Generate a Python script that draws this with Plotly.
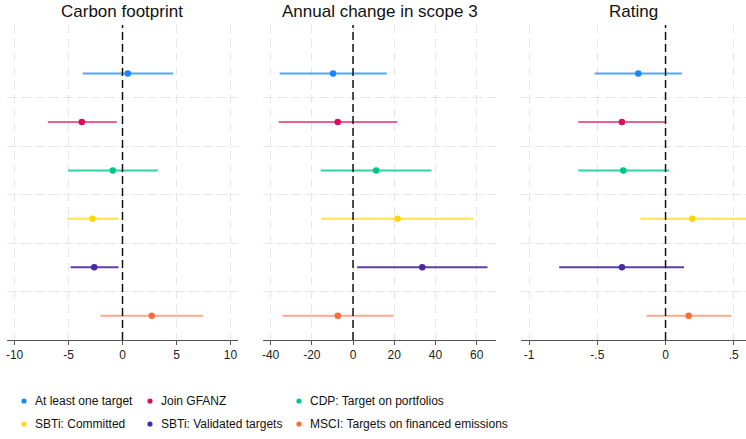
import plotly.graph_objects as go

series = ["At least one target", "Join GFANZ", "CDP: Target on portfolios",
          "SBTi: Committed", "SBTi: Validated targets", "MSCI: Targets on financed emissions"]
colors = ["#1A85FF", "#D41159", "#00C58A", "#FFD60A", "#4B2A9E", "#FF6A3D"]
ci_colors = ["rgba(26,133,255,0.75)", "rgba(212,17,89,0.65)", "rgba(0,197,138,0.8)",
             "rgba(255,214,10,0.7)", "rgba(75,42,158,0.9)", "rgba(255,106,61,0.6)"]
rows = [1, 2, 3, 4, 5, 6]

panel_titles = ["Carbon footprint", "Annual change in scope 3", "Rating"]

carbon_est = [0.49, -3.77, -0.90, -2.78, -2.62, 2.71]
carbon_lo = [-3.67, -6.92, -5.03, -5.16, -4.81, -2.04]
carbon_hi = [4.69, -0.53, 3.27, -0.34, -0.37, 7.47]

scope3_est = [-9.7, -7.4, 11.2, 21.6, 33.6, -7.4]
scope3_lo = [-35.6, -36.1, -15.7, -15.4, 2.0, -34.3]
scope3_hi = [16.4, 21.4, 38.1, 58.4, 65.3, 19.8]

rating_est = [-0.20, -0.32, -0.31, 0.196, -0.32, 0.17]
rating_lo = [-0.52, -0.64, -0.64, -0.184, -0.78, -0.14]
rating_hi = [0.12, 0.0, 0.025, 0.70, 0.136, 0.483]

carbon_ticks = [-10, -5, 0, 5, 10]
carbon_ticktext = ["-10", "-5", "0", "5", "10"]
scope3_ticks = [-40, -20, 0, 20, 40, 60]
scope3_ticktext = ["-40", "-20", "0", "20", "40", "60"]
rating_ticks = [-1, -0.5, 0, 0.5]
rating_ticktext = ["-1", "-.5", "0", ".5"]

panels = [
    (carbon_est, carbon_lo, carbon_hi, carbon_ticks, carbon_ticktext, [-10.7, 10.7]),
    (scope3_est, scope3_lo, scope3_hi, scope3_ticks, scope3_ticktext, [-43.7, 69.4]),
    (rating_est, rating_lo, rating_hi, rating_ticks, rating_ticktext, [-1.06, 0.59]),
]

W, H = 746, 439
ml, mr, mt, mb = 7, 0, 25, 99
pw = W - ml - mr
ph = H - mt - mb
px_domains = [(7, 238), (263, 496), (521, 746)]
domains = [((a - ml) / pw, (b - ml) / pw) for a, b in px_domains]


def px_x(v):
    return (v - ml) / pw


def px_y(v):
    return 1 - (v - mt) / ph


fig = go.Figure()
font_family = "Liberation Sans, Arial, sans-serif"
grid_col = "#e6e6e6"

for p, (est, lo, hi, tv, tt, rng) in enumerate(panels):
    xa = "x" if p == 0 else f"x{p+1}"
    ya = "y" if p == 0 else f"y{p+1}"
    for i in range(len(series)):
        fig.add_trace(go.Scatter(
            x=[est[i]], y=[rows[i]], mode="markers", name=series[i],
            marker=dict(color=colors[i], size=6.5),
            error_x=dict(type="data", symmetric=False,
                         array=[hi[i] - est[i]], arrayminus=[est[i] - lo[i]],
                         color=ci_colors[i], thickness=2, width=0),
            showlegend=False, xaxis=xa, yaxis=ya, hoverinfo="skip"))
    axkey = "xaxis" if p == 0 else f"xaxis{p+1}"
    aykey = "yaxis" if p == 0 else f"yaxis{p+1}"
    fig.update_layout(**{
        axkey: dict(domain=list(domains[p]), range=rng, tickvals=tv, ticktext=tt,
                    showline=True, linecolor="#555555", linewidth=1,
                    ticks="outside", ticklen=4, tickcolor="#555555",
                    showgrid=True, gridcolor=grid_col, griddash="8px,6px", gridwidth=1.3,
                    zeroline=False, anchor=ya,
                    tickfont=dict(size=12, color="#222222", family=font_family)),
        aykey: dict(domain=[0, 1], range=[6.5, 0], tickvals=[1.5, 2.5, 3.5, 4.5, 5.5],
                    showticklabels=False, ticks="", showline=False,
                    showgrid=True, gridcolor=grid_col, griddash="10px,4px", gridwidth=1.3,
                    zeroline=False, anchor=xa),
    })
    fig.add_shape(type="line", xref=xa, yref=f"{ya} domain", x0=0, x1=0, y0=0, y1=1,
                  line=dict(color="#111111", width=1.5, dash="8px,4px"), layer="above")
    fig.add_annotation(text=panel_titles[p], xref="paper", yref="paper",
                       x=(domains[p][0] + domains[p][1]) / 2, y=1 + 13 / ph,
                       xanchor="center", yanchor="middle", showarrow=False,
                       font=dict(size=17, color="#111111", family=font_family))

# legend: 3 columns x 2 rows (dot + text), laid out like the original
leg_dot_x = [24, 150, 299, 24, 150, 299]
leg_row_y = [401, 401, 401, 424, 424, 424]
for i in range(len(series)):
    fig.add_shape(type="circle", xref="paper", yref="paper",
                  xsizemode="pixel", ysizemode="pixel",
                  xanchor=px_x(leg_dot_x[i]), yanchor=px_y(leg_row_y[i]),
                  x0=-2.6, x1=2.6, y0=-2.6, y1=2.6,
                  fillcolor=colors[i], line=dict(width=0))
    fig.add_annotation(text=series[i], xref="paper", yref="paper",
                       x=px_x(leg_dot_x[i] + 9), y=px_y(leg_row_y[i]),
                       xanchor="left", yanchor="middle", showarrow=False,
                       font=dict(size=12, color="#111111", family=font_family))

fig.update_layout(
    width=W, height=H,
    margin=dict(l=ml, r=mr, t=mt, b=mb),
    paper_bgcolor="white", plot_bgcolor="white",
    font=dict(family=font_family),
    showlegend=False,
)

fig.write_html("out.html", config={"displayModeBar": False},
               post_script="document.body.style.margin='0';")
